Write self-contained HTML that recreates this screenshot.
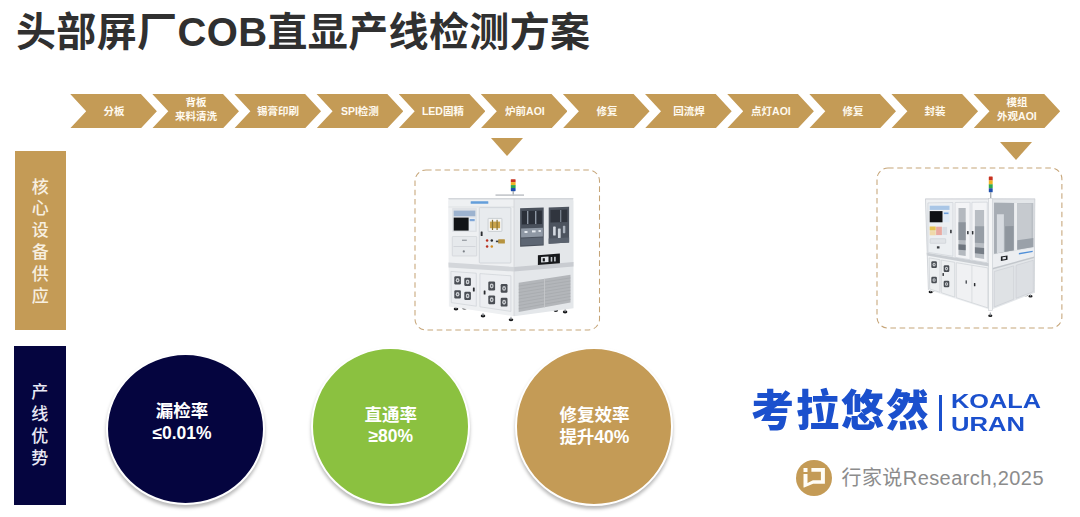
<!DOCTYPE html>
<html lang="zh-CN">
<head>
<meta charset="utf-8">
<title>头部屏厂COB直显产线检测方案</title>
<style>
html,body{margin:0;padding:0;background:#fff}
body{width:1080px;height:517px;overflow:hidden;font-family:"Liberation Sans","Noto Sans CJK SC",sans-serif}
.slide{position:relative;width:1080px;height:517px;overflow:hidden;background:#ffffff}
.slide *{box-sizing:border-box}
.abs{position:absolute}
svg{position:absolute;left:0;top:0;display:block;overflow:visible}
svg text{font-family:"Liberation Sans","Noto Sans CJK SC",sans-serif}
h1,h2,ol,li,p,figure,footer{margin:0;padding:0;list-style:none;font-weight:normal}
.title{position:absolute;left:0;top:0;width:620px;height:60px}
.title text{fill:#303030;font-weight:700;font-size:40px}
.flow{position:absolute;left:0;top:0;width:1080px;height:0}
.step{position:absolute;top:93.8px;width:86.9px;height:34.7px;background:#c49b56;clip-path:polygon(0 0,70.7px 0,100% 50%,70.7px 100%,0 100%,16.2px 50%)}
.step text{fill:#fffaf0;font-weight:700;font-size:10.5px;text-anchor:middle}
.rowlabel{position:absolute}
.rowlabel.equip{left:15.4px;top:151.1px;width:50.7px;height:179.3px;background:#c49b56}
.rowlabel.adv{left:14.4px;top:346px;width:51.8px;height:158.6px;background:#05053f}
.rowlabel text{font-size:17px;text-anchor:middle;font-weight:500}
.rowlabel.equip text{fill:#f7efe0}
.rowlabel.adv text{fill:#e9e9f4}
.marker{position:absolute;width:0;height:0;border-left:16.1px solid transparent;border-right:16.1px solid transparent;border-top:18.6px solid #c49b56}
.machine{position:absolute}
.machine .unit{filter:blur(0.45px)}
.stat{position:absolute;border-radius:50%;border:2px solid #ffffff;box-shadow:0 3px 3.5px rgba(0,0,0,.27)}
.stat text{fill:#ffffff;font-weight:700;font-size:17.5px;text-anchor:middle}
.brand{position:absolute;left:0;top:0;width:1080px;height:0}
.brand text{fill:#1b50cd;font-weight:900}
.brand svg{filter:blur(.5px)}
.brand .bar{position:absolute;background:#1b50cd}
.source{position:absolute;left:0;top:0;width:1080px;height:0}
.source .ico{position:absolute;border-radius:50%;background:#c49b56}
.source text.tx{fill:#8c8c8c;font-size:20px}
</style>
</head>
<body>
<main class="slide">
<h1 class="title"><svg width="620" height="60" viewBox="0 0 620 60"><text x="16" y="45.6" textLength="574" lengthAdjust="spacing">头部屏厂COB直显产线检测方案</text></svg></h1>
<ol class="flow">
<li class="step" style="left:70px"><svg width="86.9" height="34.7"><text x="43.9" y="21">分板</text></svg></li>
<li class="step" style="left:152.1px"><svg width="86.9" height="34.7"><text x="43.9" y="11.5">背板</text><text x="43.9" y="25.5">来料清洗</text></svg></li>
<li class="step" style="left:234.2px"><svg width="86.9" height="34.7"><text x="43.9" y="21">锡膏印刷</text></svg></li>
<li class="step" style="left:316.4px"><svg width="86.9" height="34.7"><text x="43.9" y="21">SPI检测</text></svg></li>
<li class="step" style="left:398.5px"><svg width="86.9" height="34.7"><text x="43.9" y="21">LED固精</text></svg></li>
<li class="step" style="left:480.6px"><svg width="86.9" height="34.7"><text x="43.9" y="21">炉前AOI</text></svg></li>
<li class="step" style="left:562.7px"><svg width="86.9" height="34.7"><text x="43.9" y="21">修复</text></svg></li>
<li class="step" style="left:644.8px"><svg width="86.9" height="34.7"><text x="43.9" y="21">回流焊</text></svg></li>
<li class="step" style="left:727px"><svg width="86.9" height="34.7"><text x="43.9" y="21">点灯AOI</text></svg></li>
<li class="step" style="left:809.1px"><svg width="86.9" height="34.7"><text x="43.9" y="21">修复</text></svg></li>
<li class="step" style="left:891.2px"><svg width="86.9" height="34.7"><text x="43.9" y="21">封装</text></svg></li>
<li class="step" style="left:973.3px"><svg width="86.9" height="34.7"><text x="43.9" y="11.5">模组</text><text x="43.9" y="25.5">外观AOI</text></svg></li>
</ol>
<h2 class="rowlabel equip"><svg width="50.7" height="179.3"><text><tspan x="25.2" y="41.5">核</tspan><tspan x="25.2" y="63.3">心</tspan><tspan x="25.2" y="85.1">设</tspan><tspan x="25.2" y="107">备</tspan><tspan x="25.2" y="128.8">供</tspan><tspan x="25.2" y="150.7">应</tspan></text></svg></h2>
<h2 class="rowlabel adv"><svg width="51.8" height="158.6"><text><tspan x="25.7" y="52">产</tspan><tspan x="25.7" y="73.8">线</tspan><tspan x="25.7" y="95.7">优</tspan><tspan x="25.7" y="117.7">势</tspan></text></svg></h2>
<div class="marker" style="left:490.9px;top:137.5px"></div>
<div class="marker" style="left:999.5px;top:142px"></div>
<figure class="machine" role="img" aria-label="炉前AOI检测设备" style="left:402.5px;top:158px;width:208.5px;height:184px"><svg class="frame" width="208.5" height="184" viewBox="402.5 158 208.5 184" aria-hidden="true"><rect x="414.5" y="170" width="184.5" height="160" rx="11" fill="none" stroke="#c6a578" stroke-width="1.05" stroke-dasharray="5.6 3.65"/></svg><svg class="unit" width="208.5" height="184" viewBox="402.5 158 208.5 184" aria-hidden="true"><ellipse cx="455.5" cy="309" rx="2.3" ry="1.4" fill="#17181a"/><rect x="455" y="306" width="1" height="3" fill="#8d9197"/><ellipse cx="464" cy="308.2" rx="2.3" ry="1.4" fill="#17181a"/><rect x="463.5" y="305.2" width="1" height="3" fill="#8d9197"/><ellipse cx="482.5" cy="316" rx="2.3" ry="1.4" fill="#17181a"/><rect x="482" y="313" width="1" height="3" fill="#8d9197"/><ellipse cx="510.5" cy="319.8" rx="2.3" ry="1.4" fill="#17181a"/><rect x="510" y="316.8" width="1" height="3" fill="#8d9197"/><ellipse cx="555.3" cy="310.5" rx="2.3" ry="1.4" fill="#17181a"/><rect x="554.8" y="307.5" width="1" height="3" fill="#8d9197"/><ellipse cx="564.6" cy="312" rx="2.3" ry="1.4" fill="#17181a"/><rect x="564.1" y="309" width="1" height="3" fill="#8d9197"/><rect x="510.3" y="179.2" width="4.8" height="3.15" fill="#c8321f" rx="0.6"/><rect x="510.3" y="182.15" width="4.8" height="3.15" fill="#f0b323"/><rect x="510.3" y="185.1" width="4.8" height="3.15" fill="#2fa84f"/><rect x="510.3" y="188.05" width="4.8" height="3.15" fill="#1f4fae" rx="0.6"/><rect x="512.1" y="191" width="1.2" height="5" fill="#9aa0a6"/><rect x="495" y="194.3" width="28.5" height="1.6" fill="#c3c6ca"/><path d="M447.7 201.2Q447.7 198 451 198L513.5 198L513.5 316.2L448.4 306.4Z" fill="#eef0f2"/><path d="M513.5 198L569.8 198Q573 198 573 201.2L573 308.2L513.5 316.2Z" fill="#e4e7ea"/><rect x="447.7" y="198" width="125.3" height="1.4" fill="#d4d7db" rx="0.7"/><line x1="448" y1="207" x2="513.5" y2="207" stroke="#d9dce0" stroke-width="0.7"/><rect x="470.2" y="201.2" width="17.6" height="2.6" fill="#4a8fd6" rx="0.4" opacity=".85"/><polygon points="447.9,262.6 513.5,267 513.5,271.6 448.1,267.4" fill="#d3d6da"/><polygon points="513.5,267 573,262 573,266.4 513.5,271.6" fill="#c9ccd1"/><rect x="451.6" y="207.9" width="24.8" height="24.2" fill="#dfe2e6" rx="0.8"/><rect x="453.2" y="210.6" width="21.6" height="5.6" fill="#9db3cf"/><rect x="453.2" y="217.6" width="14.9" height="13" fill="#121417"/><rect x="468.6" y="217.6" width="6.2" height="13" fill="#e9edf2"/><rect x="469.2" y="219" width="5" height="2.2" fill="#7ea6d8"/><rect x="451.8" y="236.5" width="24.4" height="19.5" fill="#e6e9ec" rx="0.6" stroke="#cfd3d7" stroke-width=".7"/><line x1="453" y1="246.5" x2="475" y2="246.5" stroke="#c9cdd2" stroke-width="0.7"/><rect x="461.5" y="239.6" width="4.8" height="1.4" fill="#9da2a8"/><ellipse cx="463.3" cy="251.4" rx="1.1" ry="1.1" fill="#7b8087"/><rect x="478.8" y="207.6" width="31.6" height="55.4" fill="#e8ebee" rx="0.8" stroke="#cdd1d6" stroke-width=".8"/><rect x="487.6" y="218.4" width="13.8" height="13" fill="#f4f5f6" rx="0.5" stroke="#c2c6cb" stroke-width=".8"/><rect x="489.4" y="221.6" width="10.2" height="6.6" fill="#c9a34c"/><rect x="491.4" y="219.8" width="1.2" height="10.2" fill="#8a7434"/><rect x="496" y="219.8" width="1.2" height="10.2" fill="#8a7434"/><rect x="480.2" y="231.4" width="1.9" height="4.6" fill="#2b2d31" rx="0.5"/><ellipse cx="486.6" cy="240.6" rx="1.25" ry="1.25" fill="#b9301f"/><ellipse cx="491.3" cy="240.6" rx="1.25" ry="1.25" fill="#26282c"/><ellipse cx="486.6" cy="246.4" rx="1.25" ry="1.25" fill="#b9301f"/><ellipse cx="491.3" cy="246.4" rx="1.25" ry="1.25" fill="#d28a1e"/><rect x="497.6" y="239.2" width="6.8" height="4.4" fill="#b6933f" rx="0.6"/><rect x="495.4" y="240.6" width="2.4" height="1.6" fill="#3a3c40"/><polygon points="519.6,208.2 543.2,207.6 543.2,245.4 519.6,246.8" fill="#4a515c"/><polygon points="521.4,211 541.4,210.4 541.4,224 521.4,224.6" fill="#2b3039"/><rect x="526.5" y="211" width="1.4" height="13" fill="#8d96a2"/><rect x="534.5" y="211" width="1.4" height="13" fill="#8d96a2"/><polygon points="520.6,228.6 542.4,227.8 542.4,236.6 520.6,237.6" fill="#8f98a4"/><polygon points="520.6,238.6 542.4,237.6 542.4,244.4 520.6,245.6" fill="#5d6673"/><rect x="524" y="231" width="3" height="2" fill="#e7ebf0"/><rect x="531.5" y="230.4" width="3.6" height="2" fill="#e7ebf0"/><rect x="538" y="230" width="2.4" height="2" fill="#dfe4ea"/><polygon points="548.2,207.4 568.6,206.8 568.6,242.6 548.2,243.8" fill="#4d545f"/><polygon points="550,210 566.8,209.4 566.8,222 550,222.6" fill="#30353e"/><rect x="559.6" y="210" width="1.2" height="12" fill="#7f8894"/><rect x="552.6" y="226.6" width="2.6" height="9" fill="#d5dae1" rx="0.6"/><rect x="557.4" y="228.4" width="2.8" height="9.6" fill="#cfd5dc" rx="0.6"/><rect x="562.4" y="225.8" width="2.4" height="7.4" fill="#aab2bd" rx="0.6"/><polygon points="548.2,238.6 568.6,237.6 568.6,242.6 548.2,243.8" fill="#5a626e"/><polygon points="537.4,255.2 559.4,253.6 559.4,263.2 537.4,265" fill="#17191c"/><polygon points="540.6,257 548,256.4 548,262 540.6,262.6" fill="#e3e6ea"/><rect x="542.2" y="258.2" width="2.2" height="3.2" fill="#17191c"/><rect x="550.2" y="257" width="1.6" height="4.6" fill="#c7ccd2"/><rect x="553.6" y="256.8" width="1.6" height="4.6" fill="#c7ccd2"/><polygon points="450.4,271.4 475.8,273.2 475.8,306.2 450.8,302.6" fill="#eceef1" stroke="#cfd3d7" stroke-width=".7"/><polygon points="479.4,273.6 510.4,275.8 510.4,311.4 479.4,306.8" fill="#eceef1" stroke="#cfd3d7" stroke-width=".7"/><rect x="453.8" y="276.2" width="6.6" height="8.2" fill="#4a4e54" rx="1.2"/><ellipse cx="457.1" cy="280.3" rx="1.848" ry="2.296" fill="#c9ccd0"/><ellipse cx="457.1" cy="280.3" rx="0.66" ry="0.82" fill="#4a4e54"/><rect x="463.8" y="277.8" width="6.6" height="8.2" fill="#4a4e54" rx="1.2"/><ellipse cx="467.1" cy="281.9" rx="1.848" ry="2.296" fill="#c9ccd0"/><ellipse cx="467.1" cy="281.9" rx="0.66" ry="0.82" fill="#4a4e54"/><rect x="453.8" y="290.2" width="6.6" height="8.2" fill="#4a4e54" rx="1.2"/><ellipse cx="457.1" cy="294.3" rx="1.848" ry="2.296" fill="#c9ccd0"/><ellipse cx="457.1" cy="294.3" rx="0.66" ry="0.82" fill="#4a4e54"/><rect x="463.8" y="291.8" width="6.6" height="8.2" fill="#4a4e54" rx="1.2"/><ellipse cx="467.1" cy="295.9" rx="1.848" ry="2.296" fill="#c9ccd0"/><ellipse cx="467.1" cy="295.9" rx="0.66" ry="0.82" fill="#4a4e54"/><rect x="487.8" y="281.6" width="6.8" height="8.8" fill="#4a4e54" rx="1.2"/><ellipse cx="491.2" cy="286" rx="1.904" ry="2.464" fill="#c9ccd0"/><ellipse cx="491.2" cy="286" rx="0.68" ry="0.88" fill="#4a4e54"/><rect x="500.2" y="284" width="6.8" height="8.8" fill="#4a4e54" rx="1.2"/><ellipse cx="503.6" cy="288.4" rx="1.904" ry="2.464" fill="#c9ccd0"/><ellipse cx="503.6" cy="288.4" rx="0.68" ry="0.88" fill="#4a4e54"/><rect x="487.8" y="295.4" width="6.8" height="8.8" fill="#4a4e54" rx="1.2"/><ellipse cx="491.2" cy="299.8" rx="1.904" ry="2.464" fill="#c9ccd0"/><ellipse cx="491.2" cy="299.8" rx="0.68" ry="0.88" fill="#4a4e54"/><rect x="500.2" y="297.8" width="6.8" height="8.8" fill="#4a4e54" rx="1.2"/><ellipse cx="503.6" cy="302.2" rx="1.904" ry="2.464" fill="#c9ccd0"/><ellipse cx="503.6" cy="302.2" rx="0.68" ry="0.88" fill="#4a4e54"/><rect x="472.4" y="287.6" width="1.8" height="3.8" fill="#2a2c30" rx="0.5"/><rect x="483.2" y="290.6" width="1.8" height="3.8" fill="#2a2c30" rx="0.5"/><polygon points="518.2,282.8 570,274.8 570,302.6 518.2,312" fill="#b3b6ba"/><line x1="518.2" y1="286.044" x2="570" y2="277.889" stroke="#a3a6aa" stroke-width="0.6"/><line x1="518.2" y1="289.289" x2="570" y2="280.978" stroke="#a3a6aa" stroke-width="0.6"/><line x1="518.2" y1="292.533" x2="570" y2="284.067" stroke="#a3a6aa" stroke-width="0.6"/><line x1="518.2" y1="295.778" x2="570" y2="287.156" stroke="#a3a6aa" stroke-width="0.6"/><line x1="518.2" y1="299.022" x2="570" y2="290.244" stroke="#a3a6aa" stroke-width="0.6"/><line x1="518.2" y1="302.267" x2="570" y2="293.333" stroke="#a3a6aa" stroke-width="0.6"/><line x1="518.2" y1="305.511" x2="570" y2="296.422" stroke="#a3a6aa" stroke-width="0.6"/><line x1="518.2" y1="308.756" x2="570" y2="299.511" stroke="#a3a6aa" stroke-width="0.6"/><line x1="544" y1="278.8" x2="544" y2="307.4" stroke="#c6c9cc" stroke-width="0.8"/><line x1="513.5" y1="198.5" x2="513.5" y2="316" stroke="#d0d3d7" stroke-width="0.8"/></svg></figure>
<figure class="machine" role="img" aria-label="模组外观AOI检测设备" style="left:864.5px;top:155.7px;width:208.9px;height:184.1px"><svg class="frame" width="208.9" height="184.1" viewBox="864.5 155.7 208.9 184.1" aria-hidden="true"><rect x="876.5" y="167.7" width="184.9" height="160.1" rx="11" fill="none" stroke="#c6a578" stroke-width="1.05" stroke-dasharray="5.6 3.65"/></svg><svg class="unit" width="208.9" height="184.1" viewBox="864.5 155.7 208.9 184.1" aria-hidden="true"><ellipse cx="930.2" cy="291.6" rx="2.1" ry="1.3" fill="#1a1b1d"/><rect x="929.7" y="288.4" width="1" height="3.2" fill="#8d9197"/><ellipse cx="934.4" cy="290.4" rx="2.1" ry="1.3" fill="#1a1b1d"/><rect x="933.9" y="287.2" width="1" height="3.2" fill="#8d9197"/><ellipse cx="989.8" cy="315.4" rx="2.1" ry="1.3" fill="#1a1b1d"/><rect x="989.3" y="312.2" width="1" height="3.2" fill="#8d9197"/><ellipse cx="1025.4" cy="294.6" rx="2.1" ry="1.3" fill="#1a1b1d"/><rect x="1024.9" y="291.4" width="1" height="3.2" fill="#8d9197"/><ellipse cx="1030" cy="296" rx="2.1" ry="1.3" fill="#1a1b1d"/><rect x="1029.5" y="292.8" width="1" height="3.2" fill="#8d9197"/><rect x="988.3" y="176.2" width="3.9" height="4.1" fill="#c8321f" rx="0.6"/><rect x="988.3" y="180.1" width="3.9" height="4.1" fill="#f0b323"/><rect x="988.3" y="184" width="3.9" height="4.1" fill="#2fa84f"/><rect x="988.3" y="187.9" width="3.9" height="4.1" fill="#1f4fae" rx="0.6"/><rect x="989.65" y="191.8" width="1.2" height="6.2" fill="#9aa0a6"/><polygon points="924.8,198.6 990,198 990,309.6 927.8,289.6" fill="#eff1f3"/><polygon points="990,198 1034.6,198.6 1033.9,292.6 990,309.6" fill="#e3e6e9"/><rect x="924.8" y="198" width="109.8" height="1.3" fill="#d5d8dc"/><polygon points="993.6,202.4 1032.8,202.8 1032.8,246.8 993.6,253.4" fill="#b9bec4"/><polygon points="993.6,202.4 1013.6,202.6 1013.6,250 993.6,253.4" fill="#a7adb4"/><polygon points="996.4,214 1003.4,214 1003.4,251.8 996.4,253" fill="#d7dbe0"/><polygon points="1004.6,226 1013,225.6 1013,250 1004.6,251.4" fill="#8f969e"/><polygon points="1016.8,203 1031,203.2 1031,240 1016.8,242.6" fill="#c6cacf"/><polygon points="1013.6,202.6 1016.6,202.6 1016.6,249.6 1013.6,250.2" fill="#eceef0"/><polygon points="1016.8,240 1032.8,237.6 1032.8,246.8 1016.8,249.4" fill="#9aa1a9"/><polygon points="992,254.4 1033.9,247.8 1033.9,256.2 992,267.6" fill="#eceef1"/><polygon points="1000.4,256.2 1007,255.2 1007,259.4 1000.4,260.6" fill="#1c1e22"/><polygon points="1002,257 1005.4,256.5 1005.4,258.6 1002,259.2" fill="#dfe3e8"/><polygon points="1018.4,252.6 1032.2,250.4 1032.2,251.8 1018.4,254.2" fill="#4f8fd8"/><polygon points="992,267.6 1033.9,256.2 1033.9,257.6 992,269.2" fill="#c3c7cc"/><polygon points="993.8,271.2 1013.2,265.6 1013.2,299 993.8,306.6" fill="#dfe2e5" stroke="#cbcfd4" stroke-width=".7"/><polygon points="1015.6,265 1032.8,260 1032.8,291.4 1015.6,298" fill="#dcdfe3" stroke="#cbcfd4" stroke-width=".7"/><polygon points="927.4,202.6 952.4,202.2 952.4,256 927.4,252" fill="#eceff2" stroke="#cfd3d8" stroke-width=".7"/><rect x="929.2" y="205.4" width="19.8" height="4.2" fill="#a9c6e6"/><rect x="929.2" y="210.8" width="12.8" height="11.2" fill="#0f1114"/><rect x="942.6" y="210.8" width="6.4" height="11.2" fill="#dfeaf6"/><rect x="943.4" y="212.2" width="4.6" height="1.6" fill="#6d9fdb"/><rect x="929.2" y="226.2" width="6" height="4" fill="#e6c24f"/><rect x="935.6" y="226.4" width="5.8" height="8.4" fill="#e9a9a0"/><rect x="929.2" y="230.8" width="6" height="4.2" fill="#f0d9a8"/><rect x="941.8" y="226.6" width="4.8" height="8" fill="#d7dde4"/><rect x="929.6" y="238.4" width="15.6" height="4.6" fill="#e1e4e8" rx="0.5" stroke="#c8ccd1" stroke-width=".6"/><rect x="936.4" y="246" width="2.6" height="2.2" fill="#3a3d42"/><rect x="949.6" y="229.4" width="1.6" height="3.6" fill="#34373c" rx="0.4"/><polygon points="954.6,202.2 969.6,202 969.6,259.4 954.6,257" fill="#f3f4f6" stroke="#cfd3d8" stroke-width=".7"/><polygon points="971.4,202 986.8,201.8 986.8,262.4 971.4,259.8" fill="#f3f4f6" stroke="#cfd3d8" stroke-width=".7"/><polygon points="958,207.8 965.2,207.8 965.2,255.6 958,254.6" fill="#b4b9bf"/><polygon points="958,222 965.2,222 965.2,240 958,239.6" fill="#8d949c"/><polygon points="958,244 965.2,244.4 965.2,250 958,249.4" fill="#6e757e"/><polygon points="974.4,209.6 983.6,209.6 983.6,258.6 974.4,257.2" fill="#b9bec4"/><polygon points="974.4,226 983.6,226 983.6,243 974.4,242.4" fill="#979ea6"/><polygon points="974.4,247 983.6,247.6 983.6,254 974.4,253" fill="#767d86"/><rect x="966.6" y="230.6" width="1.5" height="3.4" fill="#2f3237" rx="0.4"/><rect x="971.4" y="230.8" width="1.5" height="3.4" fill="#2f3237" rx="0.4"/><polygon points="926.2,252.4 990,263.2 990,266.4 926.4,255.2" fill="#c9cdd2"/><polygon points="928.6,257.6 939.4,259.4 939.4,292 929.2,288.6" fill="#edeff1" stroke="#cdd1d6" stroke-width=".7"/><polygon points="940.8,259.8 954.2,262 954.2,296.8 940.8,292.4" fill="#edeff1" stroke="#cdd1d6" stroke-width=".7"/><polygon points="955.8,262.4 987.4,267.6 987.4,307.6 955.8,297.4" fill="#f0f1f3" stroke="#cdd1d6" stroke-width=".7"/><line x1="971.4" y1="265" x2="971.4" y2="302.4" stroke="#d3d6da" stroke-width="0.7"/><rect x="930.8" y="261" width="5.6" height="6.6" fill="#4a4e54" rx="1.2"/><ellipse cx="933.6" cy="264.3" rx="1.568" ry="1.848" fill="#c9ccd0"/><ellipse cx="933.6" cy="264.3" rx="0.56" ry="0.66" fill="#4a4e54"/><rect x="930.8" y="276.4" width="5.6" height="6.6" fill="#4a4e54" rx="1.2"/><ellipse cx="933.6" cy="279.7" rx="1.568" ry="1.848" fill="#c9ccd0"/><ellipse cx="933.6" cy="279.7" rx="0.56" ry="0.66" fill="#4a4e54"/><rect x="943.2" y="265" width="5.6" height="6.6" fill="#4a4e54" rx="1.2"/><ellipse cx="946" cy="268.3" rx="1.568" ry="1.848" fill="#c9ccd0"/><ellipse cx="946" cy="268.3" rx="0.56" ry="0.66" fill="#4a4e54"/><rect x="943.2" y="280.4" width="5.6" height="6.6" fill="#4a4e54" rx="1.2"/><ellipse cx="946" cy="283.7" rx="1.568" ry="1.848" fill="#c9ccd0"/><ellipse cx="946" cy="283.7" rx="0.56" ry="0.66" fill="#4a4e54"/><rect x="942" y="272.6" width="1.4" height="3" fill="#2c2e32" rx="0.4"/><rect x="965" y="280" width="1.5" height="3.4" fill="#55595f" rx="0.4"/><rect x="973.4" y="282.6" width="1.5" height="3.4" fill="#2c2e32" rx="0.4"/><rect x="988.2" y="198" width="3.8" height="112" fill="#f5f6f7" stroke="#c9cdd2" stroke-width=".6"/><line x1="925" y1="198.6" x2="927.9" y2="289.6" stroke="#cfd3d7" stroke-width="0.9"/><line x1="1034.3" y1="198.6" x2="1033.7" y2="292.6" stroke="#cfd3d7" stroke-width="0.9"/></svg></figure>
<div class="stat" style="left:106.2px;top:353.4px;width:159px;height:152px;background:#05053f"><svg width="155" height="148"><text x="74" y="62">漏检率</text><text x="74" y="83.6" font-size="17">≤0.01%</text></svg></div>
<div class="stat" style="left:311.3px;top:347.3px;width:159px;height:158.6px;background:#8bc140"><svg width="155" height="154.6"><text x="77.8" y="71.9">直通率</text><text x="77.8" y="93.3" font-size="17">≥80%</text></svg></div>
<div class="stat" style="left:515px;top:347.3px;width:158.4px;height:158.6px;background:#c49b56"><svg width="154.4" height="154.6"><text x="77.4" y="72">修复效率</text><text x="77.4" y="94.1">提升40%</text></svg></div>
<div class="brand"><svg width="1080" height="517"><text x="751" y="425.5" font-size="43" textLength="178" lengthAdjust="spacing">考拉悠然</text><text x="951" y="407.9" font-size="19.5" textLength="90" lengthAdjust="spacingAndGlyphs">KOALA</text><text x="951" y="430.8" font-size="19.5" textLength="74" lengthAdjust="spacingAndGlyphs">URAN</text></svg><span class="bar" style="left:939.4px;top:394.5px;width:2.3px;height:36.2px"></span></div>
<footer class="source"><span class="ico" style="left:796.2px;top:459.9px;width:36px;height:36px"></span><svg width="1080" height="517"><path fill="#fffdf6" fill-rule="evenodd" d="M811.4 468.1L824.9 468.1L824.9 483.8L813.1 483.8L804.2 487.6L803.5 487.6L803.5 473.9L807.5 473.9L807.5 482.9L812.9 480.2L820.9 480.2L820.9 471.7L811.4 471.7ZM803.5 468.1L807.5 468.1L807.5 472.1L803.5 472.1Z"/><text class="tx" x="841.5" y="485" textLength="202" lengthAdjust="spacing">行家说Research,2025</text></svg></footer>
</main>
</body>
</html>
